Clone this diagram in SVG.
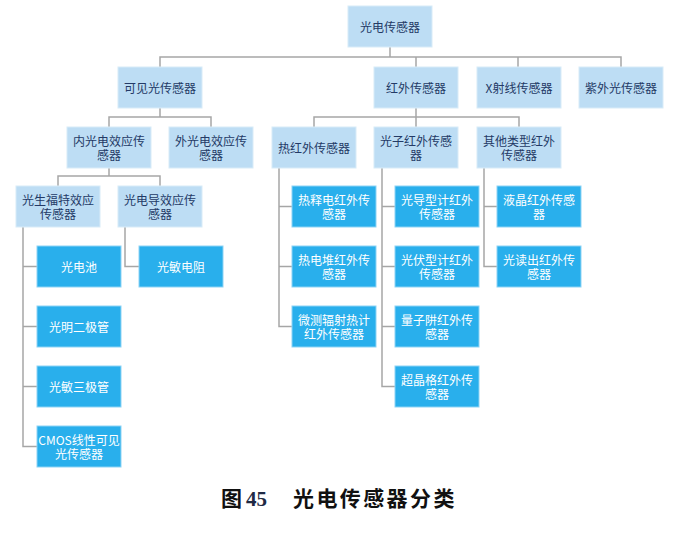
<svg xmlns="http://www.w3.org/2000/svg" width="681" height="538" viewBox="0 0 681 538">
<style>
.l{fill:#BDDDF4;stroke:#D8EBF8;stroke-width:1}
.d{fill:#29AFEC;stroke:#8DD3F5;stroke-width:1}
.t{font-family:"Noto Sans CJK SC","Noto Sans",sans-serif;font-size:12px;text-anchor:middle;dominant-baseline:central}
.tl{fill:#243A66}
.td{fill:#FFFFFF}
.c{fill:none;stroke:#A6A6A6;stroke-width:1.5}
.cap{font-family:"Noto Sans CJK SC",sans-serif;font-size:21px;font-weight:bold;fill:#111111}
</style>
<rect width="681" height="538" fill="#FFFFFF"/>
<g id="connectors" class="c">
<path d="M390,47V57M160,67V57H621V67M416,57V67M518,57V67"/>
<path d="M160,107V117M109,127V117H211V127"/>
<path d="M416,107V117M314,127V117H519V127M416,117V127"/>
<path d="M109,167V176M58,186V176H160V186"/>
<path d="M23,227V446.5H37M23,266.5H37M23,326.5H37M23,386.5H37"/>
<path d="M125,227V266.5H139"/>
<path d="M279,167V326.5H292M279,206.5H292M279,266.5H292"/>
<path d="M382,167V386.5H395M382,206.5H395M382,266.5H395M382,326.5H395"/>
<path d="M484,167V266.5H497M484,206.5H497"/>
</g>
<g id="n-root"><rect class="l" x="348" y="6" width="84" height="41"/><text class="t tl" x="390" y="26.5">光电传感器</text></g>
<g id="n-visible"><rect class="l" x="118" y="67" width="84" height="41"/><text class="t tl" x="160" y="87.5">可见光传感器</text></g>
<g id="n-ir"><rect class="l" x="374" y="67" width="84" height="41"/><text class="t tl" x="416" y="87.5">红外传感器</text></g>
<g id="n-xray"><rect class="l" x="477" y="67" width="84" height="41"/><text class="t tl" x="519" y="87.5">X射线传感器</text></g>
<g id="n-uv"><rect class="l" x="579" y="67" width="84" height="41"/><text class="t tl" x="621" y="87.5">紫外光传感器</text></g>
<g id="n-inner"><rect class="l" x="67" y="127" width="84" height="41"/><text class="t tl" x="109" y="140.5">内光电效应传</text><text class="t tl" x="109" y="154.5">感器</text></g>
<g id="n-outer"><rect class="l" x="169" y="127" width="84" height="41"/><text class="t tl" x="211" y="140.5">外光电效应传</text><text class="t tl" x="211" y="154.5">感器</text></g>
<g id="n-thermal"><rect class="l" x="272" y="127" width="84" height="41"/><text class="t tl" x="314" y="147.5">热红外传感器</text></g>
<g id="n-photon"><rect class="l" x="374" y="127" width="84" height="41"/><text class="t tl" x="416" y="140.5">光子红外传感</text><text class="t tl" x="416" y="154.5">器</text></g>
<g id="n-other"><rect class="l" x="477" y="127" width="84" height="41"/><text class="t tl" x="519" y="140.5">其他类型红外</text><text class="t tl" x="519" y="154.5">传感器</text></g>
<g id="n-pv"><rect class="l" x="16" y="186" width="84" height="41"/><text class="t tl" x="58" y="199.5">光生福特效应</text><text class="t tl" x="58" y="213.5">传感器</text></g>
<g id="n-pc"><rect class="l" x="118" y="186" width="84" height="41"/><text class="t tl" x="160" y="199.5">光电导效应传</text><text class="t tl" x="160" y="213.5">感器</text></g>
<g id="n-cell"><rect class="d" x="37" y="246" width="84" height="41"/><text class="t td" x="79" y="266.5">光电池</text></g>
<g id="n-diode"><rect class="d" x="37" y="306" width="84" height="41"/><text class="t td" x="79" y="326.5">光明二极管</text></g>
<g id="n-transistor"><rect class="d" x="37" y="366" width="84" height="41"/><text class="t td" x="79" y="386.5">光敏三极管</text></g>
<g id="n-cmos"><rect class="d" x="37" y="426" width="84" height="41"/><text class="t td" x="79" y="439.5">CMOS线性可见</text><text class="t td" x="79" y="453.5">光传感器</text></g>
<g id="n-ldr"><rect class="d" x="139" y="246" width="84" height="41"/><text class="t td" x="181" y="266.5">光敏电阻</text></g>
<g id="n-pyro"><rect class="d" x="292" y="186" width="84" height="41"/><text class="t td" x="334" y="199.5">热释电红外传</text><text class="t td" x="334" y="213.5">感器</text></g>
<g id="n-thermopile"><rect class="d" x="292" y="246" width="84" height="41"/><text class="t td" x="334" y="259.5">热电堆红外传</text><text class="t td" x="334" y="273.5">感器</text></g>
<g id="n-bolometer"><rect class="d" x="292" y="306" width="84" height="41"/><text class="t td" x="334" y="319.5">微测辐射热计</text><text class="t td" x="334" y="333.5">红外传感器</text></g>
<g id="n-pcir"><rect class="d" x="395" y="186" width="84" height="41"/><text class="t td" x="437" y="199.5">光导型计红外</text><text class="t td" x="437" y="213.5">传感器</text></g>
<g id="n-pvir"><rect class="d" x="395" y="246" width="84" height="41"/><text class="t td" x="437" y="259.5">光伏型计红外</text><text class="t td" x="437" y="273.5">传感器</text></g>
<g id="n-qw"><rect class="d" x="395" y="306" width="84" height="41"/><text class="t td" x="437" y="319.5">量子阱红外传</text><text class="t td" x="437" y="333.5">感器</text></g>
<g id="n-sl"><rect class="d" x="395" y="366" width="84" height="41"/><text class="t td" x="437" y="379.5">超晶格红外传</text><text class="t td" x="437" y="393.5">感器</text></g>
<g id="n-lc"><rect class="d" x="497" y="186" width="84" height="41"/><text class="t td" x="539" y="199.5">液晶红外传感</text><text class="t td" x="539" y="213.5">器</text></g>
<g id="n-or"><rect class="d" x="497" y="246" width="84" height="41"/><text class="t td" x="539" y="259.5">光读出红外传</text><text class="t td" x="539" y="273.5">感器</text></g>
<g id="caption">
<text class="cap" x="221" y="506">图</text>
<text x="246" y="506" font-family="'Liberation Serif',serif" font-size="21" font-weight="bold" fill="#1F2A44">45</text>
<text class="cap" x="293" y="506" letter-spacing="2.4">光电传感器分类</text>
</g>
</svg>
